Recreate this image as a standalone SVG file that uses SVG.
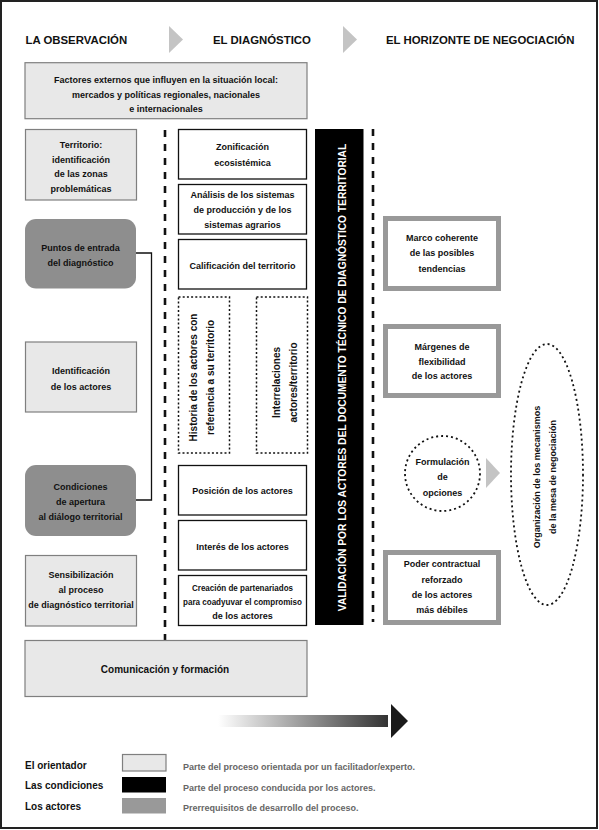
<svg xmlns="http://www.w3.org/2000/svg" width="599" height="830" viewBox="0 0 599 830">
<style>
text{font-family:"Liberation Sans",Arial,sans-serif;font-weight:bold;fill:#111;}
.hd{font-size:11.4px;}
.t{font-size:9px;text-anchor:middle;}
.v{font-size:10px;text-anchor:middle;}
.lg{font-size:10px;}
.ld{font-size:9px;fill:#666;}
.orient{fill:#e8e8e8;stroke:#7f7f7f;stroke-width:1.2;}
.cond{fill:#8e8e8e;}
.diag{fill:#fff;stroke:#111;stroke-width:1.3;}
.dot{fill:none;stroke:#111;stroke-width:1.5;stroke-dasharray:2 2.2;}
.act{fill:#fff;stroke:#999;stroke-width:5;}
.dash{stroke:#111;stroke-width:2.6;stroke-dasharray:7 7;fill:none;}
.chev{fill:#c4c4c4;}
</style>
<defs>
<linearGradient id="grad" x1="0" y1="0" x2="1" y2="0">
<stop offset="0" stop-color="#fff"/>
<stop offset="1" stop-color="#333"/>
</linearGradient>
</defs>
<rect x="1" y="1" width="596" height="827" fill="#fff" stroke="#222" stroke-width="2"/>

<g id="headers">
<text class="hd" x="25.5" y="44.3">LA OBSERVACIÓN</text>
<polygon class="chev" points="169,26 169,53 183,39.5"/>
<text class="hd" x="213" y="44.3">EL DIAGNÓSTICO</text>
<polygon class="chev" points="343,26 343,53 357,39.5"/>
<text class="hd" x="386" y="44.3">EL HORIZONTE DE NEGOCIACIÓN</text>
</g>

<g id="factores">
<rect class="orient" x="25" y="62.7" width="282" height="56"/>
<text class="t" x="166" y="83">Factores externos que influyen en la situación local:</text>
<text class="t" x="166" y="97.5">mercados y políticas regionales, nacionales</text>
<text class="t" x="166" y="112">e internacionales</text>
</g>

<g id="connectors">
<line class="dash" x1="165" y1="130" x2="165" y2="640"/>
<line class="dash" x1="373" y1="129" x2="373" y2="622"/>
<polyline points="136,253 151.5,253 151.5,500 136,500" fill="none" stroke="#111" stroke-width="1.3"/>
</g>

<g id="territorio">
<rect class="orient" x="25.5" y="129.5" width="111" height="70.5"/>
<text class="t" x="81" y="148">Territorio:</text>
<text class="t" x="81" y="162.5">identificación</text>
<text class="t" x="81" y="177">de las zonas</text>
<text class="t" x="81" y="192">problemáticas</text>
</g>
<g id="puntos">
<rect class="cond" x="25" y="219" width="111" height="69.5" rx="11"/>
<text class="t" x="80.5" y="251">Puntos de entrada</text>
<text class="t" x="80.5" y="266">del diagnóstico</text>
</g>
<g id="identificacion">
<rect class="orient" x="25.5" y="342" width="111" height="70"/>
<text class="t" x="81" y="374">Identificación</text>
<text class="t" x="81" y="390">de los actores</text>
</g>
<g id="condiciones">
<rect class="cond" x="25" y="465" width="111" height="71" rx="11"/>
<text class="t" x="80.5" y="489.7">Condiciones</text>
<text class="t" x="80.5" y="505.3">de apertura</text>
<text class="t" x="80.5" y="519.7">al diálogo territorial</text>
</g>
<g id="sensibilizacion">
<rect class="orient" x="25.5" y="555.5" width="111" height="70.5"/>
<text class="t" x="81" y="578">Sensibilización</text>
<text class="t" x="81" y="593">al proceso</text>
<text class="t" x="81" y="608">de diagnóstico territorial</text>
</g>
<g id="comunicacion">
<rect class="orient" x="25" y="640.5" width="282" height="56"/>
<text class="t" x="165" y="672.5" style="font-size:10px">Comunicación y formación</text>
</g>

<g id="zonificacion">
<rect class="diag" x="178.5" y="129.5" width="128" height="49.5"/>
<text class="t" x="242.5" y="149.7">Zonificación</text>
<text class="t" x="242.5" y="165.7">ecosistémica</text>
</g>
<g id="analisis">
<rect class="diag" x="178.5" y="184.5" width="128" height="49.5"/>
<text class="t" x="242.5" y="198">Análisis de los sistemas</text>
<text class="t" x="242.5" y="213">de producción y de los</text>
<text class="t" x="242.5" y="228.3">sistemas agrarios</text>
</g>
<g id="calificacion">
<rect class="diag" x="178.5" y="239.5" width="128" height="49.5"/>
<text class="t" x="242.5" y="268.7">Calificación del territorio</text>
</g>
<g id="historia">
<rect class="dot" x="178.5" y="297" width="51" height="156"/>
<text class="v" transform="translate(197,377.5) rotate(-90)" x="0" y="0">Historia de los actores con</text>
<text class="v" transform="translate(214,377.5) rotate(-90)" x="0" y="0">referencia a su territorio</text>
</g>
<g id="interrelaciones">
<rect class="dot" x="256.5" y="297" width="51" height="156"/>
<text class="v" transform="translate(280,382.5) rotate(-90)" x="0" y="0">Interrelaciones</text>
<text class="v" transform="translate(296.5,382.5) rotate(-90)" x="0" y="0">actores/territorio</text>
</g>
<g id="posicion">
<rect class="diag" x="178.5" y="465.5" width="128" height="49.5"/>
<text class="t" x="242.5" y="493.7">Posición de los actores</text>
</g>
<g id="interes">
<rect class="diag" x="178.5" y="520.5" width="128" height="49.5"/>
<text class="t" x="242.5" y="550.3">Interés de los actores</text>
</g>
<g id="creacion">
<rect class="diag" x="178.5" y="575.5" width="128" height="50"/>
<text class="t" x="242.5" y="590.7" textLength="101" lengthAdjust="spacingAndGlyphs">Creación de partenariados</text>
<text class="t" x="242.5" y="604.7" textLength="119" lengthAdjust="spacingAndGlyphs">para coadyuvar el compromiso</text>
<text class="t" x="242.5" y="618.7">de los actores</text>
</g>

<g id="validacion">
<rect x="315" y="129" width="48.5" height="496" fill="#000"/>
<text transform="translate(345.5,377.5) rotate(-90)" x="0" y="0" style="font-size:10.2px;text-anchor:middle;fill:#fff">VALIDACIÓN POR LOS ACTORES DEL DOCUMENTO TÉCNICO DE DIAGNÓSTICO TERRITORIAL</text>
</g>

<g id="marco">
<rect class="act" x="385.5" y="218.5" width="113" height="70"/>
<text class="t" x="442" y="241.3">Marco coherente</text>
<text class="t" x="442" y="256.3">de las posibles</text>
<text class="t" x="442" y="272">tendencias</text>
</g>
<g id="margenes">
<rect class="act" x="385.5" y="326.5" width="113" height="69"/>
<text class="t" x="442" y="349.7">Márgenes de</text>
<text class="t" x="442" y="364.7">flexibilidad</text>
<text class="t" x="442" y="379">de los actores</text>
</g>
<g id="formulacion">
<circle cx="442.5" cy="473.5" r="37.5" fill="none" stroke="#111" stroke-width="1.8" stroke-dasharray="2 3"/>
<text class="t" x="442.5" y="465.3">Formulación</text>
<text class="t" x="442.5" y="479.7">de</text>
<text class="t" x="442.5" y="496.3">opciones</text>
<polygon class="chev" points="486,458 486,488 500,473"/>
</g>
<g id="poder">
<rect class="act" x="385.5" y="552.5" width="113" height="70"/>
<text class="t" x="442" y="567.3">Poder contractual</text>
<text class="t" x="442" y="583">reforzado</text>
<text class="t" x="442" y="598">de los actores</text>
<text class="t" x="442" y="613">más débiles</text>
</g>
<g id="organizacion">
<ellipse cx="547" cy="474.5" rx="36" ry="130.5" fill="none" stroke="#111" stroke-width="1.8" stroke-dasharray="2 3"/>
<text class="t" transform="translate(540,477) rotate(-90)" x="0" y="0">Organización de los mecanismos</text>
<text class="t" transform="translate(556,477) rotate(-90)" x="0" y="0">de la mesa de negociación</text>
</g>

<g id="progreso">
<rect x="218" y="715" width="170" height="12" fill="url(#grad)"/>
<polygon points="391,704 391,738 408,721" fill="#1a1a1a"/>
</g>

<g id="leyenda">
<text class="lg" x="25" y="768.5">El orientador</text>
<rect class="orient" x="122.5" y="754.5" width="43.5" height="16.5"/>
<text class="ld" x="183" y="769.5">Parte del proceso orientada por un facilitador/experto.</text>
<text class="lg" x="25" y="788.5">Las condiciones</text>
<rect x="122" y="777" width="44" height="15.5" fill="#000"/>
<text class="ld" x="183" y="790.5">Parte del proceso conducida por los actores.</text>
<text class="lg" x="25" y="809.5">Los actores</text>
<rect x="122" y="798" width="44" height="15.5" fill="#999"/>
<text class="ld" x="183" y="810.5">Prerrequisitos de desarrollo del proceso.</text>
</g>
</svg>
